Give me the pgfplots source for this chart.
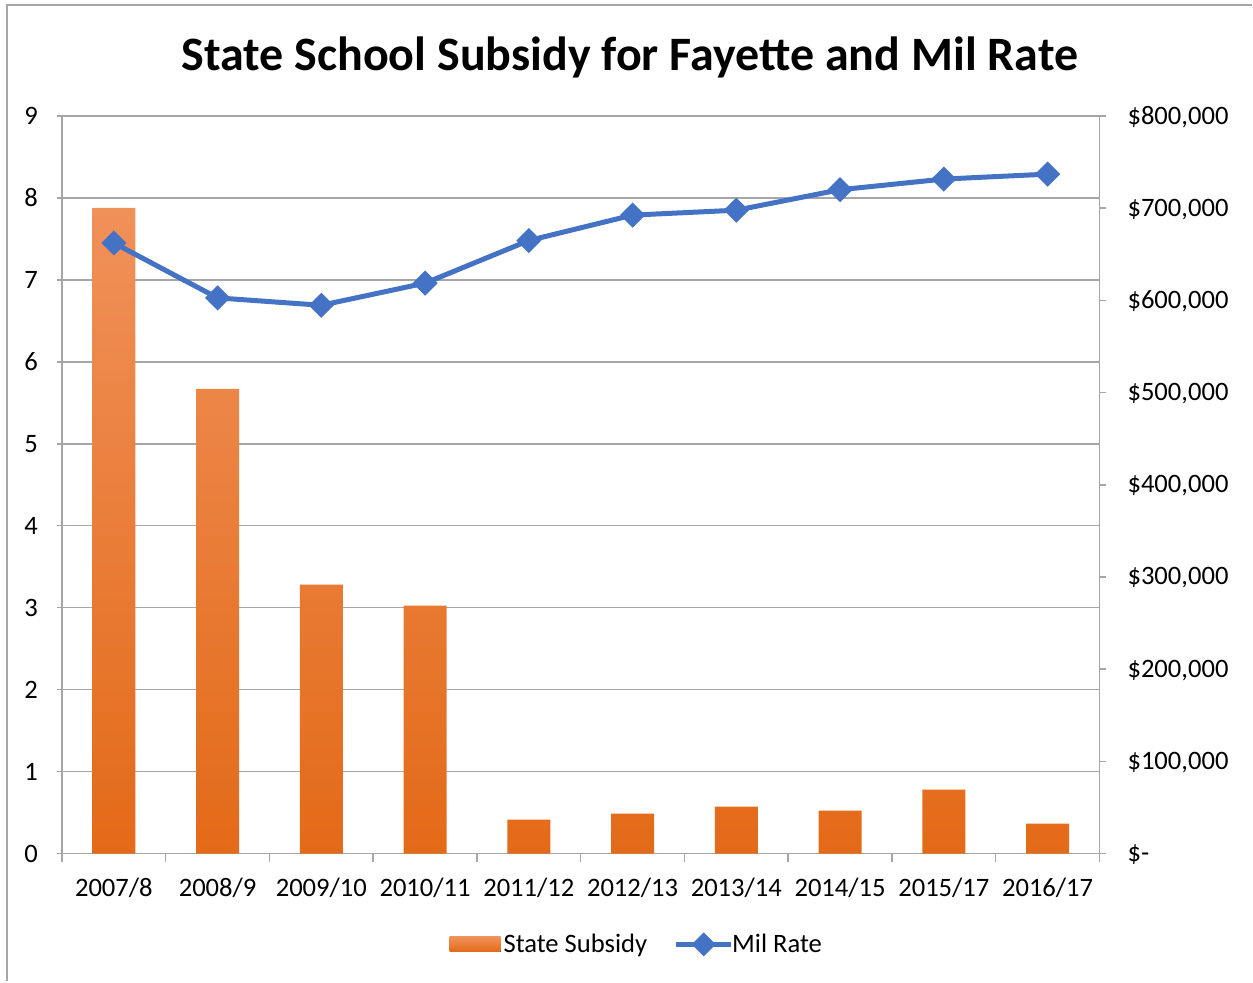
\documentclass[border=0pt]{standalone}
\usepackage{fontspec}
\setmainfont{Carlito}
\usepackage{pgfplots}
\pgfplotsset{compat=1.18}
\definecolor{barTop}{HTML}{F0915A}
\definecolor{barMid}{HTML}{F47F2C}
\definecolor{barBot}{HTML}{E36A18}
\definecolor{lineBlue}{HTML}{4472C4}
\definecolor{gridGray}{HTML}{A6A6A6}
\pgfplotsset{
  base/.style={scale only axis, width=519pt, height=369pt, at={(31pt,64.5pt)}, anchor=south west,
    xmin=-0.5, xmax=9.5,
    tick label style={font=\fontsize{13.3}{16}\selectfont, text=black},
    /pgf/number format/assume math mode=true},
}
\begin{document}
\begin{tikzpicture}[x=1pt,y=1pt]
\path (0,0) rectangle (626.5,491.5);
\draw[gridGray, line width=0.6pt] (3.5,1) -- (3.5,489) -- (626.5,489);
\node[font=\fontsize{24}{29}\selectfont\bfseries] at (315,463) {State School Subsidy for Fayette and Mil Rate};

% axis 1: grid, left ticks, x labels
\begin{axis}[base, ymin=0, ymax=9, ytick={0,...,9},
  axis x line*=bottom, axis y line*=left,
  ymajorgrids, grid style={gridGray, line width=0.75pt},
  axis line style={gridGray, line width=0.75pt, -},
  tick align=outside,
  major tick style={gridGray, line width=0.75pt},
  minor tick style={gridGray, line width=0.75pt},
  major tick length=2.5pt, minor tick length=4pt,
  xtick={0,...,9},
  major x tick style={draw=none},
  minor xtick={-0.5,0.5,...,9.5},
  xticklabels={2007/8,2008/9,2009/10,2010/11,2011/12,2012/13,2013/14,2014/15,2015/17,2016/17},
  xticklabel style={yshift=-6pt},
  yticklabel style={xshift=-6pt},
]
\addplot[draw=none] coordinates {(0,0)};
\end{axis}

% axis 2: bars on right axis
\begin{axis}[base, ymin=0, ymax=800000,
  axis x line=none, axis y line*=right,
  axis line style={gridGray, line width=0.75pt, -},
  tick align=outside,
  major tick style={gridGray, line width=0.75pt},
  major tick length=3.5pt,
  ytick={0,100000,200000,300000,400000,500000,600000,700000,800000},
  yticklabels={\$-,{\$100,000},{\$200,000},{\$300,000},{\$400,000},{\$500,000},{\$600,000},{\$700,000},{\$800,000}},
  scaled y ticks=false,
  yticklabel style={anchor=west, xshift=7pt, yshift=-0.5pt},
]
\addplot[ybar, bar width=21.5pt, bar shift=0pt, draw=none, top color=barTop, middle color=barMid, bottom color=barBot]
coordinates {(0,700300) (1,504100) (2,291600) (3,268800) (4,36900) (5,43400) (6,50900) (7,46600) (8,69400) (9,32500)};
\end{axis}

% axis 3: line
\begin{axis}[base, ymin=0, ymax=9, hide axis,
  legend columns=2,
  legend style={at={(0.555,-0.123)}, anchor=center, draw=none, fill=none,
    font=\fontsize{13.3}{16}\selectfont, inner xsep=0pt,
    /tikz/every even column/.append style={column sep=12.5pt}},
  legend cell align=left,
]
\addlegendimage{legend image code/.code={\path[draw=none, fill=none] (0pt,-3.75pt) rectangle (25pt,3.75pt); \fill[overlay, draw=none, top color=barTop, middle color=barMid, bottom color=barBot] (0pt,-3.75pt) rectangle (25.5pt,3.75pt);}}
\addlegendentry{State Subsidy}
\addplot[lineBlue, line width=2.5pt, mark=square*, mark size=3.2pt, mark options={rotate=45, solid},
  legend image code/.code={\path[draw=none, fill=none] (0pt,-4.5pt) rectangle (26pt,4.5pt); \draw[overlay, lineBlue, line width=2.5pt] (0pt,0pt) -- (27.5pt,0pt); \fill[overlay, lineBlue, rotate around={45:(13.75pt,0pt)}] (10.75pt,-3pt) rectangle (16.75pt,3pt);}]
coordinates {(0,7.45) (1,6.78) (2,6.69) (3,6.96) (4,7.48) (5,7.79) (6,7.85) (7,8.10) (8,8.23) (9,8.29)};
\addlegendentry{Mil Rate}
\end{axis}
\end{tikzpicture}
\end{document}
